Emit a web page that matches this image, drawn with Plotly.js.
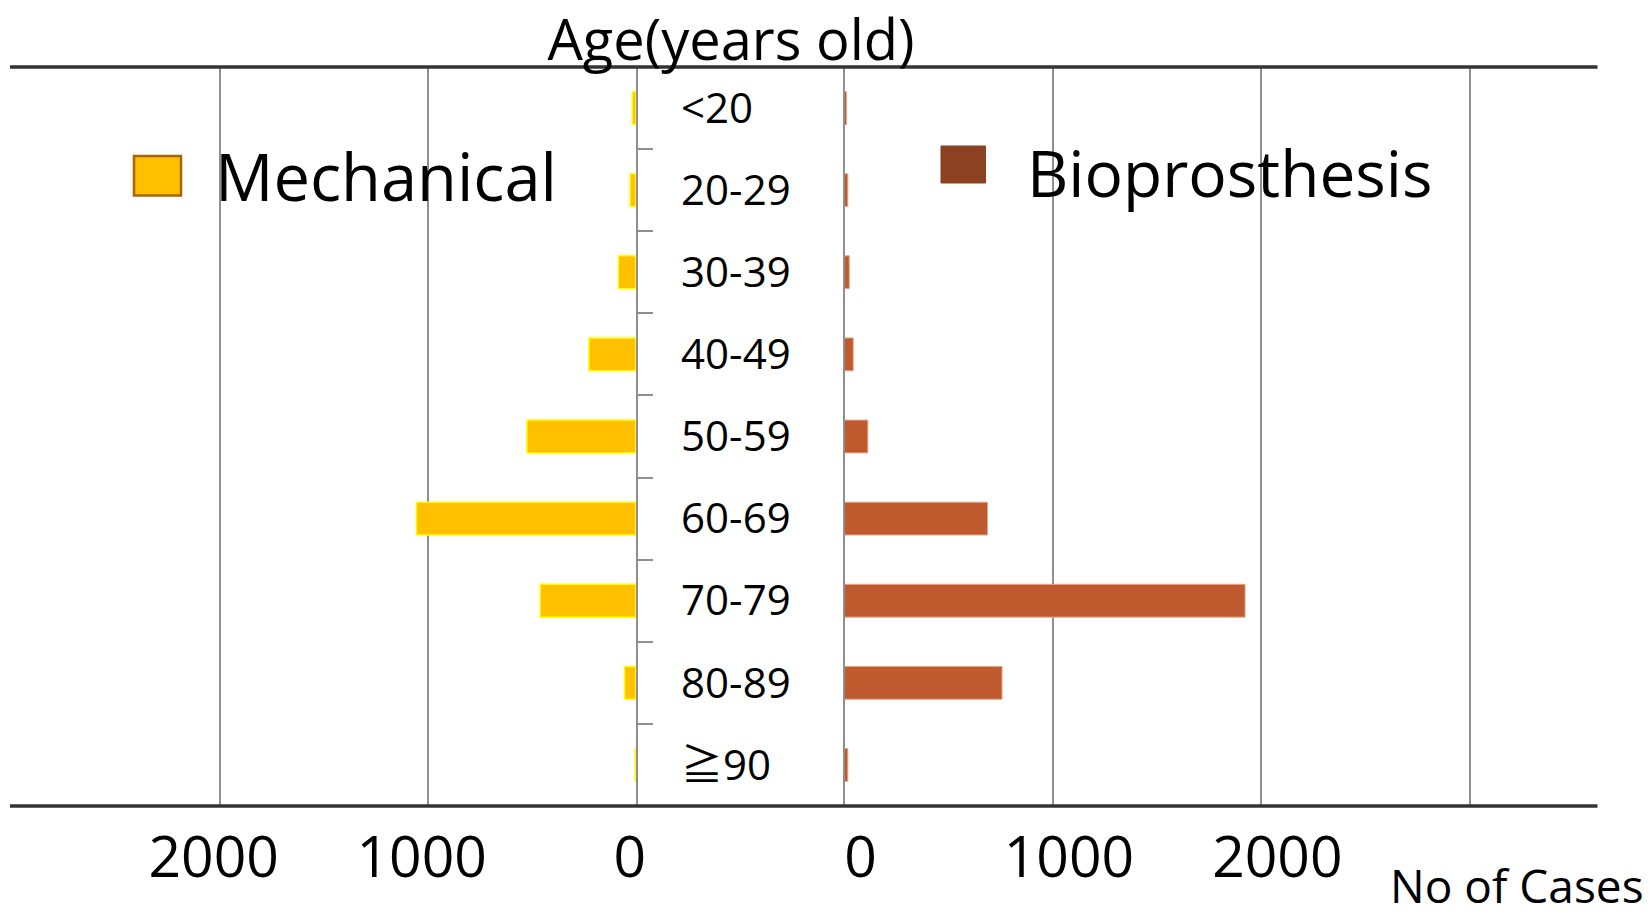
<!DOCTYPE html>
<html>
<head>
<meta charset="utf-8">
<script src="https://cdn.plot.ly/plotly-3.0.1.min.js"></script>
<style>html,body{margin:0;padding:0;background:#fff;}#chart{width:1649px;height:919px;}</style>
</head>
<body>
<div id="chart"></div>
<script>
// ---- data ----
var ageGroups = ['<20', '20-29', '30-39', '40-49', '50-59', '60-69', '70-79', '80-89', '\u226790'];
var mechanical = [16, 27, 83, 225, 523, 1054, 459, 54, 3];
var bioprosthesis = [10, 16, 23, 42, 112, 686, 1922, 756, 16];
var seriesNames = ['Mechanical', 'Bioprosthesis'];
var leftTickVals = [0, 1000, 2000, 3000];
var leftTickText = ['0', '1000', '2000', ''];
var rightTickVals = [0, 1000, 2000, 3000];
var rightTickText = ['0', '1000', '2000', ''];
var titleText = 'Age(years old)';
var xTitleText = 'No of Cases';

var W = 1649, H = 919;
var FONT = '"Open Sans", "Noto Sans", "Noto Sans CJK JP", sans-serif';
var plotTop = 67, plotBottom = 806;
function px(x) { return x / W; }
function py(y) { return (plotBottom - y) / (plotBottom - plotTop); }

var traces = [
  {
    type: 'bar', orientation: 'h', name: seriesNames[0],
    x: mechanical, y: ageGroups, xaxis: 'x', yaxis: 'y',
    marker: { color: '#FFC000', line: { color: '#FFFF00', width: 1.5 } },
    showlegend: false, hoverinfo: 'x+y'
  },
  {
    type: 'bar', orientation: 'h', name: seriesNames[1],
    x: bioprosthesis, y: ageGroups, xaxis: 'x2', yaxis: 'y2',
    marker: { color: '#BE5A2D', line: { color: '#E3A98C', width: 1 } },
    showlegend: false, hoverinfo: 'x+y'
  }
];

var layout = {
  width: W, height: H,
  paper_bgcolor: '#ffffff', plot_bgcolor: 'rgba(0,0,0,0)',
  margin: { l: 0, r: 0, t: plotTop, b: H - plotBottom, pad: 0 },
  font: { family: FONT, color: '#000000' },
  bargap: 0.6,
  showlegend: false,
  title: {
    text: titleText,
    font: { family: FONT, size: 56, color: '#000000' },
    x: px(731), xref: 'paper', xanchor: 'center',
    y: 1 - 40 / H, yref: 'container', yanchor: 'middle'
  },
  xaxis: {
    domain: [px(11.6), px(635.7)],
    range: [3000, 0],
    tickvals: leftTickVals, ticktext: leftTickText,
    showgrid: true, gridcolor: '#8f8f8f', gridwidth: 2,
    zeroline: false, showline: false, ticks: '',
    tickfont: { family: FONT, size: 57, color: '#000000' },
    ticklabelstandoff: 13,
    ticklabelshift: 6,
    fixedrange: true
  },
  yaxis: {
    anchor: 'x', side: 'right',
    type: 'category', categoryorder: 'array', categoryarray: ageGroups,
    autorange: 'reversed',
    showline: true, linecolor: '#8f8f8f', linewidth: 2,
    ticks: 'outside', tickson: 'boundaries', ticklen: 15, tickcolor: '#8f8f8f', tickwidth: 2,
    showgrid: false, zeroline: false,
    tickfont: { family: FONT, size: 42, color: '#000000' },
    ticklabelstandoff: 35,
    fixedrange: true
  },
  xaxis2: {
    domain: [px(844.5), px(1597.5)],
    range: [0, 3613],
    anchor: 'y2',
    tickvals: rightTickVals, ticktext: rightTickText,
    showgrid: true, gridcolor: '#8f8f8f', gridwidth: 2,
    zeroline: false, showline: false, ticks: '',
    tickfont: { family: FONT, size: 57, color: '#000000' },
    ticklabelstandoff: 13,
    ticklabelshift: 16,
    fixedrange: true
  },
  yaxis2: {
    anchor: 'x2', side: 'left', matches: 'y',
    type: 'category', categoryorder: 'array', categoryarray: ageGroups,
    showline: true, linecolor: '#8f8f8f', linewidth: 2,
    showticklabels: false, ticks: '', showgrid: false, zeroline: false,
    fixedrange: true
  },
  shapes: [
    { type: 'line', xref: 'paper', yref: 'paper', x0: px(10), x1: px(1597.5), y0: 1, y1: 1,
      line: { color: '#333333', width: 3.5 } },
    { type: 'line', xref: 'paper', yref: 'paper', x0: px(10), x1: px(1597.5), y0: 0, y1: 0,
      line: { color: '#333333', width: 3.5 } },
    { type: 'rect', xref: 'paper', yref: 'paper',
      x0: px(134), x1: px(181), y0: py(195.5), y1: py(156),
      fillcolor: '#FFC000', line: { color: '#A86408', width: 2.5 } },
    { type: 'rect', xref: 'paper', yref: 'paper',
      x0: px(941), x1: px(985.5), y0: py(183), y1: py(146),
      fillcolor: '#8B4122', line: { color: '#8B4122', width: 1 } }
  ],
  annotations: [
    { text: seriesNames[0], xref: 'paper', yref: 'paper', x: px(213), y: py(176),
      xanchor: 'left', yanchor: 'middle', showarrow: false,
      font: { family: FONT, size: 65, color: '#000000' } },
    { text: seriesNames[1], xref: 'paper', yref: 'paper', x: px(1025), y: py(172),
      xanchor: 'left', yanchor: 'middle', showarrow: false,
      font: { family: FONT, size: 64, color: '#000000' } },
    { text: xTitleText, xref: 'paper', yref: 'paper', x: px(1646), y: py(885),
      xanchor: 'right', yanchor: 'middle', showarrow: false,
      font: { family: FONT, size: 46, color: '#000000' } }
  ]
};

Plotly.newPlot('chart', traces, layout, { displayModeBar: false, staticPlot: true });
</script>
</body>
</html>
